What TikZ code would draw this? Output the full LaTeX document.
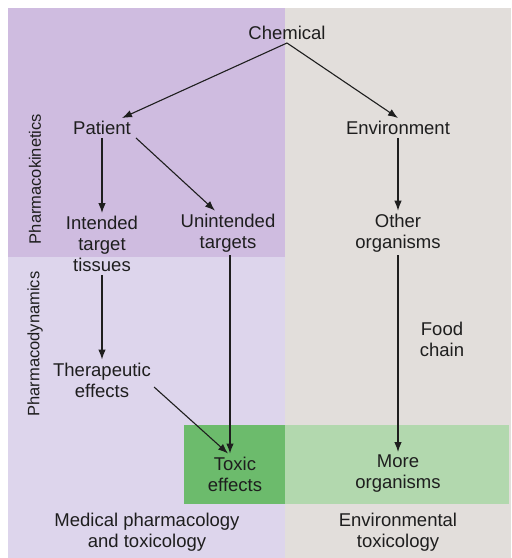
\documentclass[tikz,border=0pt]{standalone}
\usepackage{fontspec}
\setmainfont{Liberation Sans}
\usetikzlibrary{arrows.meta}
\definecolor{kinpurple}{RGB}{207,188,224}
\definecolor{dynlav}{RGB}{221,213,236}
\definecolor{envbeige}{RGB}{226,222,219}
\definecolor{toxgreen}{RGB}{108,187,108}
\definecolor{moregreen}{RGB}{178,216,174}
\definecolor{inkgray}{RGB}{30,30,30}
\begin{document}
\begin{tikzpicture}[x=1pt,y=-1pt,font=\fontsize{18.5}{21}\selectfont,
lbl/.style={align=center,inner sep=3pt,text=inkgray},
side/.style={lbl,rotate=90,font=\fontsize{16.5}{20}\selectfont},
arr/.style={-{Latex[length=10pt,width=7.5pt]},line width=1.1pt,draw=inkgray}]
\useasboundingbox (0,0) rectangle (512,558);
% the four fields and the green band
\fill[kinpurple] (8,8) rectangle (285,257);
\fill[dynlav] (8,257) rectangle (285,558);
\fill[envbeige] (285,8) rectangle (511,558);
\fill[toxgreen] (184,425) rectangle (285,504);
\fill[moregreen] (285,425) rectangle (509,504);
% labels
\node[lbl] (chem) at (287,33) {Chemical};
\node[lbl] (patient) at (102,128) {Patient};
\node[lbl] (env) at (398,128) {Environment};
\node[lbl] (intended) at (102,244) {Intended\\target\\tissues};
\node[lbl] (unint) at (228,233) {Unintended\\targets};
\node[lbl] (other) at (398,233) {Other\\organisms};
\node[lbl] (thera) at (102,380) {Therapeutic\\effects};
\node[lbl] (toxic) at (235,474) {Toxic\\effects};
\node[lbl] (more) at (398,474) {More\\organisms};
\node[lbl] (food) at (442,339) {Food\\chain};
\node[lbl] (med) at (147,532) {Medical pharmacology\\and toxicology};
\node[lbl] (envtox) at (398,532) {Environmental\\toxicology};
\node[side] (kin) at (35,179) {Pharmacokinetics};
\node[side] (dyn) at (35,344) {Pharmacodynamics};
% arrows
\draw[arr] (chem.south) -- ([xshift=-12]patient.north east);
\draw[arr] (chem.south) -- (env.north);
\draw[arr] ([xshift=2]patient.south east) -- ([xshift=-13]unint.north);
\foreach \A/\B in {patient/intended,env/other,intended/thera,other/more}
{\draw[arr] (\A) -- (\B);}
\draw[arr] ([xshift=2]unint.south) -- ([xshift=2]unint.south|-toxic.north);
\draw[arr] ([yshift=-7]thera.east) -- ([xshift=-7]toxic.north);
\end{tikzpicture}
\end{document}
